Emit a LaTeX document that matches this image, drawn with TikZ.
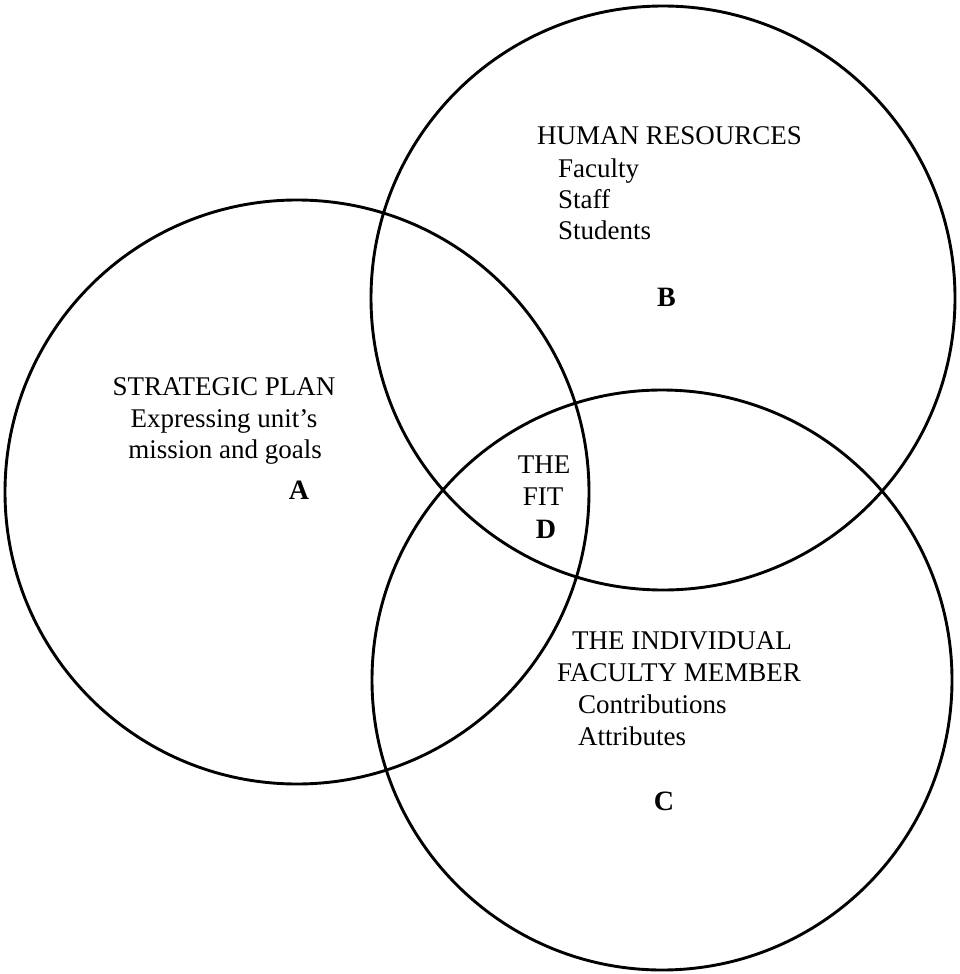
\documentclass[tikz,border=0pt]{standalone}
\usepackage{fontspec}
\setmainfont{Liberation Serif}
\begin{document}
\begin{tikzpicture}[x=1pt,y=-1pt,
  ring/.style={draw=black,line width=2.9pt},
  lbl/.style={inner sep=0pt,font=\fontsize{27}{31.5}\selectfont},
  tag/.style={inner sep=0pt,font=\fontsize{28}{31.5}\selectfont\bfseries}]
\useasboundingbox (0,0) rectangle (960,974);
% circle centres
\coordinate (cA) at (297,492);
\coordinate (cB) at (663,298);
\coordinate (cC) at (662,680);
\draw[ring] (cA) circle[radius=292];
\draw[ring] (cB) circle[radius=292];
\draw[ring] (cC) circle[radius=290];
% A: strategic plan
\node[lbl,anchor=base] (a1) at (224,395) {STRATEGIC PLAN};
\node[lbl,anchor=base] (a2) at (224,427) {Expressing unit’s};
\node[lbl,anchor=base] (a3) at (225,458) {mission and goals};
\node[tag,anchor=base] (aL) at (299,499) {A};
% B: human resources
\node[lbl,anchor=base west] (b1) at (537,144) {HUMAN RESOURCES};
\node[lbl,anchor=base west] (b2) at (558,177) {Faculty};
\node[lbl,anchor=base west] (b3) at (558,208) {Staff};
\node[lbl,anchor=base west] (b4) at (558,239) {Students};
\node[tag,anchor=base west] (bL) at (657,306) {B};
% D: the fit
\node[lbl,anchor=base] (d1) at (544,473) {THE};
\node[lbl,anchor=base] (d2) at (543,505) {FIT};
\node[tag,anchor=base] (dL) at (546,538) {D};
% C: the individual faculty member
\node[lbl,anchor=base west] (c1) at (572,649) {THE INDIVIDUAL};
\node[lbl,anchor=base west] (c2) at (557,681) {FACULTY MEMBER};
\node[lbl,anchor=base west] (c3) at (578,713) {Contributions};
\node[lbl,anchor=base west] (c4) at (578,745) {Attributes};
\node[tag,anchor=base] (cL) at (664,810) {C};
\end{tikzpicture}
\end{document}
